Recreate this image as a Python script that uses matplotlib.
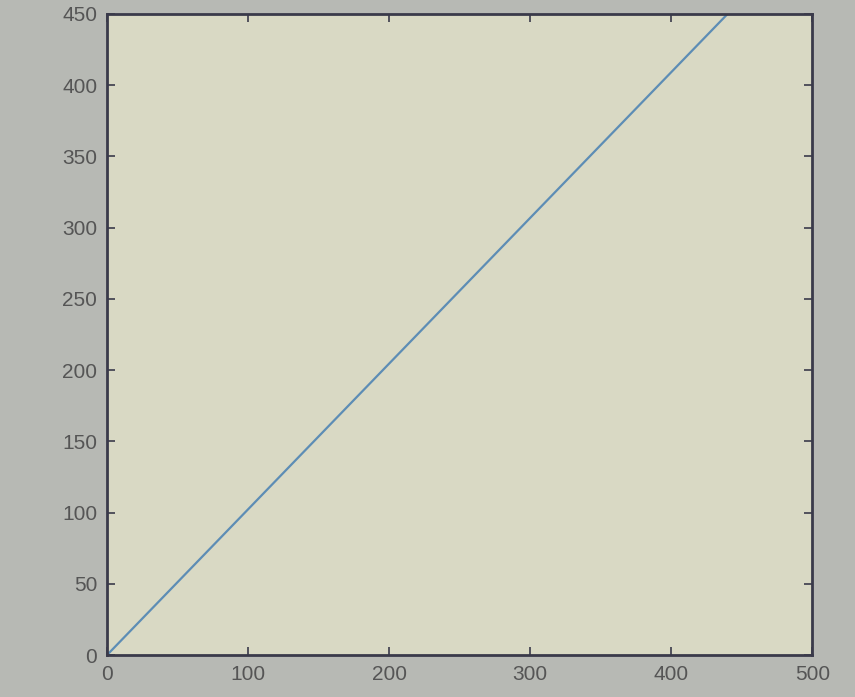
import matplotlib
matplotlib.use("Agg")
import matplotlib.pyplot as plt

x_vals = [0, 440]
y_vals = [0, 450]
x_ticks = [0, 100, 200, 300, 400, 500]
y_ticks = [0, 50, 100, 150, 200, 250, 300, 350, 400, 450]

plt.rcParams['font.family'] = ['Liberation Sans', 'DejaVu Sans']

fig = plt.figure(figsize=(8.55, 6.97), dpi=100)
fig.patch.set_facecolor("#b7b9b4")
ax = fig.add_axes([0.125, 0.06, 0.825, 0.92])
ax.set_facecolor("#d9d9c4")

ax.plot(x_vals, y_vals, color="#5d8db5", linewidth=1.6)

ax.set_xlim(0, 500)
ax.set_ylim(0, 450)
ax.set_xticks(x_ticks)
ax.set_yticks(y_ticks)

for side in ax.spines.values():
    side.set_color("#3a3a4a")
    side.set_linewidth(2)

ax.tick_params(direction="in", length=6, width=1.2, color="#3a3a4a",
               top=True, right=True, labelsize=15, labelcolor="#555555", pad=7)

fig.savefig("out.png", facecolor=fig.get_facecolor())
